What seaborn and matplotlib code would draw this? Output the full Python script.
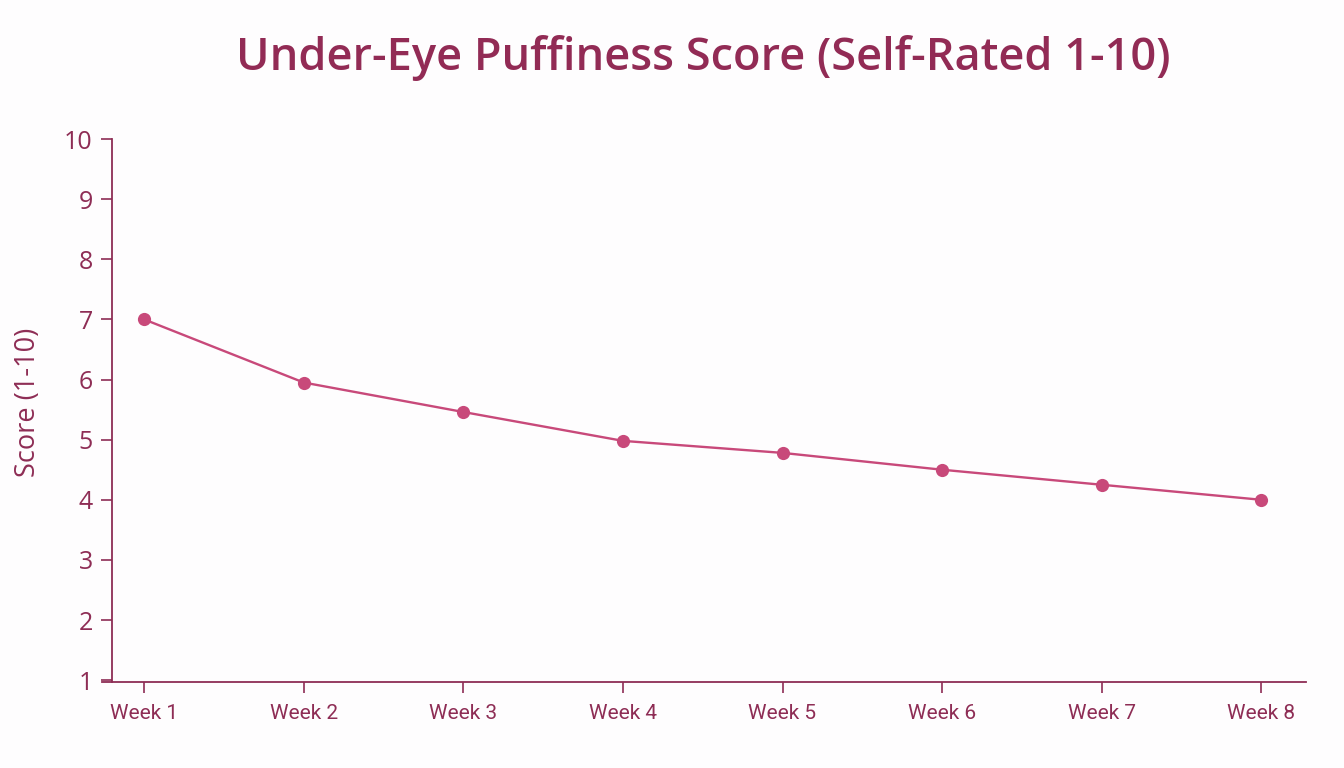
import numpy as np
import pandas as pd
import matplotlib
matplotlib.use("Agg")
import matplotlib.pyplot as plt
import seaborn as sns

# Data
weeks = ["Week 1", "Week 2", "Week 3", "Week 4", "Week 5", "Week 6", "Week 7", "Week 8"]
scores = [7.0, 5.95, 5.46, 4.98, 4.78, 4.5, 4.25, 4.0]
y_ticks = [1, 2, 3, 4, 5, 6, 7, 8, 9, 10]

# Colours
title_color = "#922B55"
axis_color = "#8E2D55"
line_color = "#C8497A"

sns.set_theme(style="white")
plt.rcParams['font.family'] = ['Open Sans', 'DejaVu Sans']

df = pd.DataFrame({"Week": weeks, "Score": scores})

fig = plt.figure(figsize=(13.44, 7.68), dpi=100)
fig.patch.set_facecolor("#FEFDFE")
ax = fig.add_axes([0.0759, 0.112, 0.8958, 0.707])
ax.set_facecolor("#FEFDFE")

sns.lineplot(data=df, x="Week", y="Score", ax=ax, color=line_color,
             linewidth=1.7, marker="o", markersize=9.5, markeredgewidth=0,
             sort=False)

ax.set_xlim(-0.264, 7.28)
ax.set_ylim(0.97, 10)
ax.set_yticks(y_ticks)
ax.set_yticklabels([str(t) for t in y_ticks])

# Spines
for side in ["top", "right"]:
    ax.spines[side].set_visible(False)
ax.spines["left"].set_position(("data", -0.2))
for side in ["left", "bottom"]:
    ax.spines[side].set_color(axis_color)
    ax.spines[side].set_linewidth(1.3)

ax.tick_params(axis="y", which="both", left=True, length=8, width=1.2,
               color=axis_color, labelcolor=axis_color, labelsize=18, pad=6)
ax.tick_params(axis="x", which="both", bottom=True, length=8, width=1.2,
               color=axis_color, labelcolor=axis_color, pad=8)
for lbl in ax.get_xticklabels():
    lbl.set_family(['Liberation Sans Narrow', 'Roboto', 'DejaVu Sans'])
    lbl.set_fontsize(15)

ax.set_xlabel("")
ax.set_ylabel("Score (1-10)", fontsize=19.5, color=axis_color)
ax.yaxis.set_label_coords(-0.05, 0.515)
ax.grid(False)

fig.text(0.523, 0.925, "Under-Eye Puffiness Score (Self-Rated 1-10)",
         ha="center", va="center", fontsize=32.5, fontweight="semibold",
         color=title_color)

fig.savefig("out.png", dpi=100, facecolor=fig.get_facecolor())
